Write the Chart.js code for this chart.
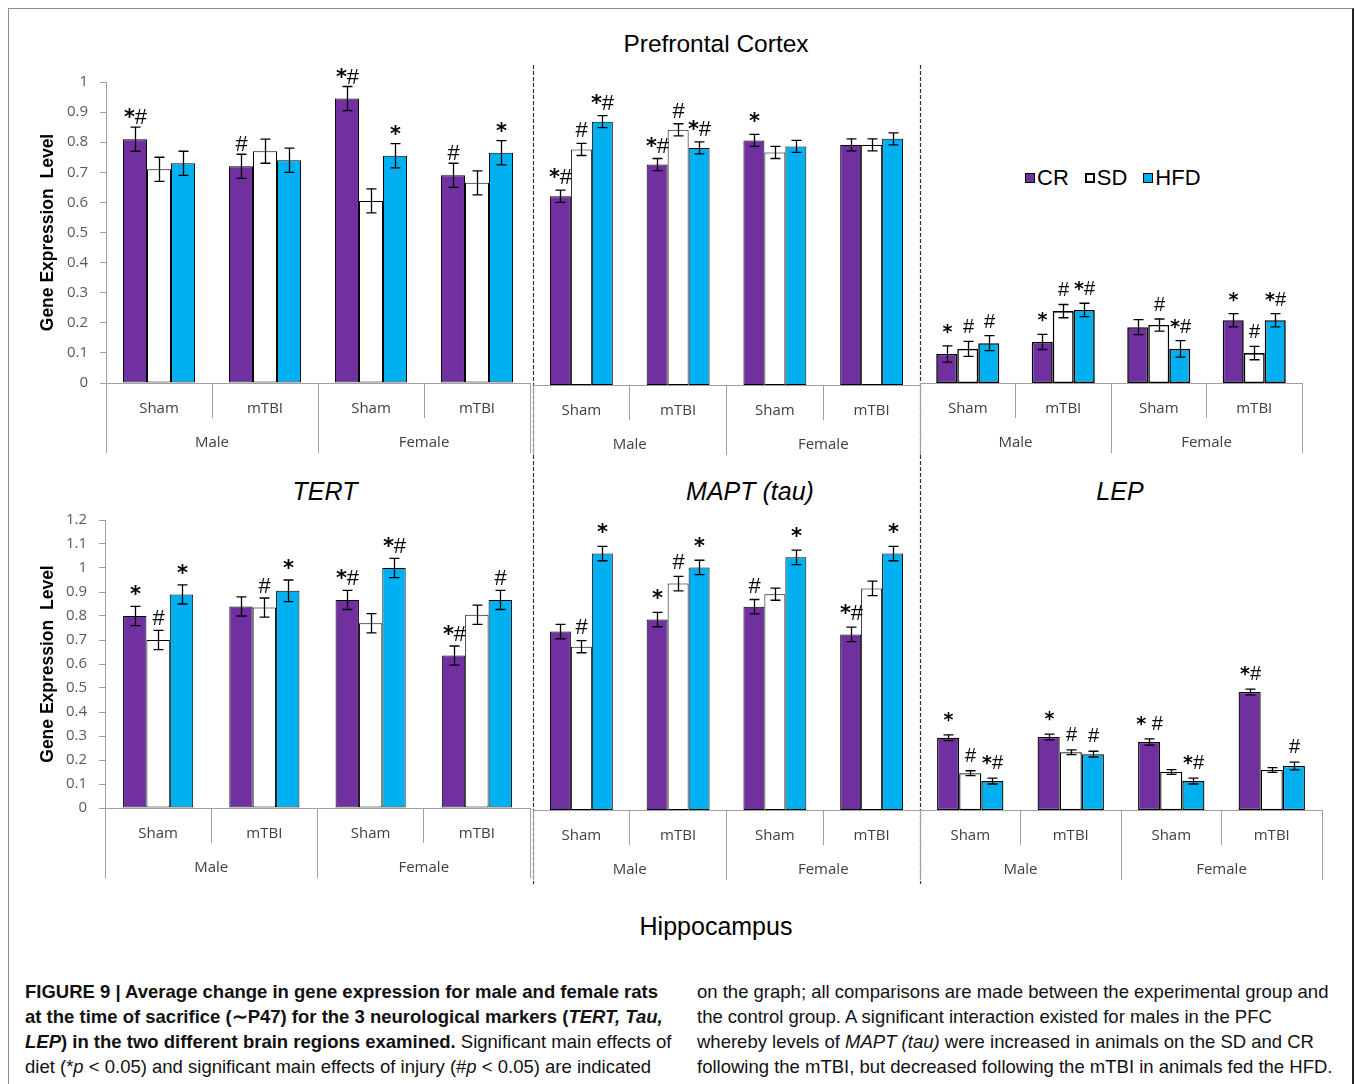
<!DOCTYPE html>
<html>
<head>
<meta charset="utf-8">
<title>Gene expression – PFC and hippocampus</title>
<script src="https://cdn.jsdelivr.net/npm/chart.js@4.4.0/dist/chart.umd.min.js"></script>
<style>
  html, body { margin: 0; padding: 0; background: #fff; }
  #fig { position: relative; width: 1355px; height: 1084px; overflow: hidden;
         font-family: "Liberation Sans", Arial, sans-serif; color: #000; }
  #frame { position: absolute; left: 8px; top: 8px; width: 1343px; height: 1200px;
           border-left: 1px solid #8c8c8c; border-top: 1px solid #8c8c8c; border-right: 2px solid #222; }
  canvas { position: absolute; }
  .ttl { position: absolute; transform: translate(-50%, -50%); white-space: nowrap; line-height: 1; }
  #legend { position: absolute; left: 1025px; top: 165px; height: 26px; display: flex; align-items: center;
            font-size: 22px; white-space: nowrap; }
  #legend .item { display: flex; align-items: center; margin-right: 16px; }
  #legend .sw { width: 10px; height: 10px; box-sizing: border-box; border: 1px solid #000; margin-right: 2px; }
  .cap { position: absolute; top: 979px; font-size: 18.5px; line-height: 25px; white-space: nowrap; color: #111; }
</style>
</head>
<body>
<div id="fig">
  <div id="frame"></div>
  <svg id="dividers" width="1355" height="1084" style="position:absolute;left:0;top:0;pointer-events:none">
    <line x1="533.5" y1="65" x2="533.5" y2="884" stroke="#333" stroke-width="1.2" stroke-dasharray="4 2"/>
    <line x1="920.5" y1="65" x2="920.5" y2="884" stroke="#333" stroke-width="1.2" stroke-dasharray="4 2"/>
  </svg>
  <div class="ttl" style="left:716px;top:44px;font-size:24.5px">Prefrontal Cortex</div>
  <div class="ttl" style="left:325px;top:491px;font-size:25px;font-style:italic">TERT</div>
  <div class="ttl" style="left:750px;top:491px;font-size:25px;font-style:italic">MAPT (tau)</div>
  <div class="ttl" style="left:1120px;top:491px;font-size:25px;font-style:italic">LEP</div>
  <div class="ttl" style="left:716px;top:926px;font-size:25px">Hippocampus</div>
  <div id="legend"></div>
  <div class="cap" style="left:25px">
    <b>FIGURE 9 | Average change in gene expression for male and female rats</b><br>
    <b>at the time of sacrifice (∼P47) for the 3 neurological markers (<i>TERT, Tau,</i></b><br>
    <b><i>LEP</i>) in the two different brain regions examined.</b> Significant main effects of<br>
    diet (*<i>p</i> &lt; 0.05) and significant main effects of injury (#<i>p</i> &lt; 0.05) are indicated
  </div>
  <div class="cap" style="left:697px">
    on the graph; all comparisons are made between the experimental group and<br>
    the control group. A significant interaction existed for males in the PFC<br>
    whereby levels of <i>MAPT (tau)</i> were increased in animals on the SD and CR<br>
    following the mTBI, but decreased following the mTBI in animals fed the HFD.
  </div>
</div>

<script>
// ---- shared categories -------------------------------------------------
const injuryLabels = ['Sham', 'mTBI', 'Sham', 'mTBI'];
const sexLabels = ['Male', 'Female'];
const dietNames = ['CR', 'SD', 'HFD'];
const dietFill = ['#7030A0', '#FFFFFF', '#00B0F0'];

// y-axis tick labels
const pfcTickLabels = ['0', '0.1', '0.2', '0.3', '0.4', '0.5', '0.6', '0.7', '0.8', '0.9', '1'];
const hcTickLabels = ['0', '0.1', '0.2', '0.3', '0.4', '0.5', '0.6', '0.7', '0.8', '0.9', '1', '1.1', '1.2'];
const yTitle = 'Gene Expression  Level';

// ---- Prefrontal cortex: TERT -------------------------------------------
const pfcTertCR  = [0.81, 0.72, 0.945, 0.69];
const pfcTertSD  = [0.71, 0.77, 0.605, 0.665];
const pfcTertHFD = [0.73, 0.74, 0.755, 0.765];
const pfcTertErrCR  = [0.04, 0.04, 0.04, 0.04];
const pfcTertErrSD  = [0.04, 0.04, 0.04, 0.04];
const pfcTertErrHFD = [0.04, 0.04, 0.04, 0.04];
const pfcTertSigCR  = ['*#', '#', '*#', '#'];
const pfcTertSigSD  = ['', '', '', ''];
const pfcTertSigHFD = ['', '', '*', '*'];

// ---- Prefrontal cortex: MAPT (tau) ---------------------------------------
const pfcMaptCR  = [0.625, 0.73, 0.81, 0.795];
const pfcMaptSD  = [0.78, 0.845, 0.77, 0.795];
const pfcMaptHFD = [0.872, 0.785, 0.79, 0.815];
const pfcMaptErrCR  = [0.02, 0.02, 0.02, 0.02];
const pfcMaptErrSD  = [0.02, 0.02, 0.02, 0.02];
const pfcMaptErrHFD = [0.02, 0.02, 0.02, 0.02];
const pfcMaptSigCR  = ['*#', '*#', '*', ''];
const pfcMaptSigSD  = ['#', '#', '', ''];
const pfcMaptSigHFD = ['*#', '*#', '', ''];

// ---- Prefrontal cortex: LEP ----------------------------------------------
const pfcLepCR  = [0.096, 0.136, 0.185, 0.208];
const pfcLepSD  = [0.113, 0.238, 0.192, 0.099];
const pfcLepHFD = [0.132, 0.242, 0.113, 0.208];
const pfcLepErrCR  = [0.027, 0.025, 0.025, 0.022];
const pfcLepErrSD  = [0.025, 0.022, 0.02, 0.022];
const pfcLepErrHFD = [0.025, 0.022, 0.027, 0.022];
const pfcLepSigCR  = ['*', '*', '', '*'];
const pfcLepSigSD  = ['#', '#', '#', '#'];
const pfcLepSigHFD = ['#', '*#', '*#', '*#'];

// ---- Hippocampus: TERT ---------------------------------------------------
const hcTertCR  = [0.80, 0.84, 0.867, 0.635];
const hcTertSD  = [0.70, 0.835, 0.77, 0.805];
const hcTertHFD = [0.89, 0.905, 1.0, 0.867];
const hcTertErrCR  = [0.04, 0.04, 0.04, 0.04];
const hcTertErrSD  = [0.04, 0.04, 0.04, 0.04];
const hcTertErrHFD = [0.04, 0.045, 0.04, 0.04];
const hcTertSigCR  = ['*', '', '*#', '*#'];
const hcTertSigSD  = ['#', '#', '', ''];
const hcTertSigHFD = ['*', '*', '*#', '#'];

// ---- Hippocampus: MAPT (tau) ---------------------------------------------
const hcMaptCR  = [0.741, 0.791, 0.844, 0.729];
const hcMaptSD  = [0.678, 0.94, 0.896, 0.92];
const hcMaptHFD = [1.065, 1.007, 1.049, 1.065];
const hcMaptErrCR  = [0.03, 0.03, 0.03, 0.03];
const hcMaptErrSD  = [0.025, 0.03, 0.025, 0.03];
const hcMaptErrHFD = [0.03, 0.03, 0.03, 0.03];
const hcMaptSigCR  = ['', '*', '#', '*#'];
const hcMaptSigSD  = ['#', '#', '', ''];
const hcMaptSigHFD = ['*', '*', '*', '*'];

// ---- Hippocampus: LEP ----------------------------------------------------
const hcLepCR  = [0.30, 0.303, 0.282, 0.49];
const hcLepSD  = [0.153, 0.24, 0.158, 0.166];
const hcLepHFD = [0.12, 0.232, 0.12, 0.183];
const hcLepErrCR  = [0.012, 0.012, 0.013, 0.012];
const hcLepErrSD  = [0.01, 0.01, 0.01, 0.01];
const hcLepErrHFD = [0.012, 0.012, 0.012, 0.016];
const hcLepSigCR  = ['*', '*', '* #', '*#'];
const hcLepSigSD  = ['#', '#', '', ''];
const hcLepSigHFD = ['*#', '#', '*#', '#'];

// ---- panel layout (page pixels of each plot area) -------------------------
const panels = [
  { area: { l: 106, r: 530, t: 81,  b: 383 }, axis: true,  ticks: pfcTickLabels, cat: 0.68, bw: 1,   gap: 3,  mark: 21,
    series: [[pfcTertCR, pfcTertErrCR, pfcTertSigCR], [pfcTertSD, pfcTertErrSD, pfcTertSigSD], [pfcTertHFD, pfcTertErrHFD, pfcTertSigHFD]] },
  { area: { l: 533, r: 920, t: 83,  b: 385 }, axis: false, ticks: pfcTickLabels, cat: 0.65, bw: 1,   gap: 6,  mark: 21,
    series: [[pfcMaptCR, pfcMaptErrCR, pfcMaptSigCR], [pfcMaptSD, pfcMaptErrSD, pfcMaptSigSD], [pfcMaptHFD, pfcMaptErrHFD, pfcMaptSigHFD]] },
  { area: { l: 920, r: 1302, t: 81, b: 383 }, axis: false, ticks: pfcTickLabels, cat: 0.66, bw: 1.6, gap: 8,  mark: 19,
    series: [[pfcLepCR, pfcLepErrCR, pfcLepSigCR], [pfcLepSD, pfcLepErrSD, pfcLepSigSD], [pfcLepHFD, pfcLepErrHFD, pfcLepSigHFD]] },
  { area: { l: 105, r: 530, t: 519, b: 808 }, axis: true,  ticks: hcTickLabels, cat: 0.66, bw: 1,   gap: 5,  mark: 21,
    series: [[hcTertCR, hcTertErrCR, hcTertSigCR], [hcTertSD, hcTertErrSD, hcTertSigSD], [hcTertHFD, hcTertErrHFD, hcTertSigHFD]] },
  { area: { l: 533, r: 920, t: 521, b: 810 }, axis: false, ticks: hcTickLabels, cat: 0.65, bw: 1,   gap: 7,  mark: 21,
    series: [[hcMaptCR, hcMaptErrCR, hcMaptSigCR], [hcMaptSD, hcMaptErrSD, hcMaptSigSD], [hcMaptHFD, hcMaptErrHFD, hcMaptSigHFD]] },
  { area: { l: 920, r: 1322, t: 521, b: 810 }, axis: false, ticks: hcTickLabels, cat: 0.66, bw: 1.3, gap: 9,  mark: 19,
    series: [[hcLepCR, hcLepErrCR, hcLepSigCR], [hcLepSD, hcLepErrSD, hcLepSigSD], [hcLepHFD, hcLepErrHFD, hcLepSigHFD]] }
];

const axisGrey = '#a0a0a0';
const catFont = { family: "'Open Sans', sans-serif", size: 15 };

// draws a significance string glyph by glyph: heavy asterisks, plain hashes
function drawMark(ctx, text, cx, baseline, size) {
  const parts = Array.from(text).map(ch => ({
    ch,
    font: ch === '*' ? 'bold ' + size + 'px "DejaVu Sans", sans-serif'
                     : (size + 1) + 'px "Liberation Sans", Arial, sans-serif'
  }));
  let total = 0;
  parts.forEach(p => { ctx.font = p.font; p.w = ctx.measureText(p.ch).width; total += p.w; });
  let x = cx - total / 2;
  ctx.textAlign = 'left';
  ctx.textBaseline = 'alphabetic';
  parts.forEach(p => { ctx.font = p.font; ctx.fillText(p.ch, x, baseline); x += p.w; });
}

// error bars (mean ± SEM) and significance marks above each bar
const errorBarPlugin = {
  id: 'errorBars',
  afterDatasetsDraw(chart, args, opts) {
    const { ctx } = chart;
    const y = chart.scales.y;
    chart.data.datasets.forEach((ds, di) => {
      const meta = chart.getDatasetMeta(di);
      meta.data.forEach((bar, i) => {
        const v = ds.data[i], e = ds.errors[i];
        const yTop = y.getPixelForValue(v + e);
        const yBot = y.getPixelForValue(v - e);
        const x = Math.round(bar.x) + 0.5;
        ctx.save();
        ctx.strokeStyle = '#000';
        ctx.lineWidth = 1.3;
        ctx.beginPath();
        ctx.moveTo(x, yTop); ctx.lineTo(x, yBot);
        ctx.moveTo(x - 5, yTop); ctx.lineTo(x + 5, yTop);
        ctx.moveTo(x - 5, yBot); ctx.lineTo(x + 5, yBot);
        ctx.stroke();
        const mark = ds.marks[i];
        if (mark) {
          ctx.fillStyle = '#000';
          drawMark(ctx, mark, x, yTop - opts.gap, opts.mark);
        }
        ctx.restore();
      });
    });
  }
};

const fig = document.getElementById('fig');

panels.forEach(p => {
  const padT = 20, padB = 4, padR = 4;
  const xH = 35, x2H = 35;
  const cLeft = p.axis ? 14 : p.area.l - 6;
  const padL = p.axis ? 0 : 6;
  const cTop = p.area.t - padT;
  const W = p.area.r + padR - cLeft;
  const H = p.area.b + xH + x2H + padB - cTop;
  const cv = document.createElement('canvas');
  cv.width = W; cv.height = H;
  cv.style.left = cLeft + 'px'; cv.style.top = cTop + 'px';
  cv.style.width = W + 'px'; cv.style.height = H + 'px';
  fig.appendChild(cv);

  const tickValues = p.ticks.map(Number);

  new Chart(cv, {
    type: 'bar',
    data: {
      labels: injuryLabels,
      datasets: p.series.map((s, k) => ({
        label: dietNames[k],
        data: s[0],
        errors: s[1],
        marks: s[2],
        backgroundColor: dietFill[k],
        borderColor: '#000',
        borderWidth: p.bw,
        borderSkipped: false,
        categoryPercentage: p.cat,
        barPercentage: 1,
        xAxisID: 'x',
        yAxisID: 'y'
      }))
    },
    options: {
      responsive: false,
      animation: false,
      events: [],
      layout: { padding: { left: padL, right: padR, top: padT, bottom: padB } },
      plugins: {
        legend: { display: false },
        tooltip: { enabled: false },
        errorBars: { gap: p.gap, mark: p.mark }
      },
      scales: {
        x: {
          type: 'category', position: 'bottom', offset: true, weight: 0,
          grid: { offset: true, drawOnChartArea: false, drawTicks: true, tickLength: 35, color: axisGrey, lineWidth: 1 },
          border: { display: true, color: axisGrey, width: 1 },
          ticks: { font: catFont, color: '#404040', padding: -18, maxRotation: 0, autoSkip: false },
          afterFit: s => { s.height = xH; }
        },
        x2: {
          type: 'category', labels: sexLabels, position: 'bottom', offset: true, weight: 1,
          grid: { offset: true, drawOnChartArea: false, drawTicks: true, tickLength: 35, color: axisGrey, lineWidth: 1 },
          border: { display: false },
          ticks: { font: catFont, color: '#404040', padding: -19, maxRotation: 0, autoSkip: false },
          afterFit: s => { s.height = x2H; }
        },
        y: {
          display: p.axis,
          min: 0,
          max: tickValues[tickValues.length - 1],
          afterBuildTicks: s => { s.ticks = tickValues.map(v => ({ value: v })); },
          ticks: { font: catFont, color: '#595959', padding: 12, callback: (v, i) => p.ticks[i] },
          grid: { drawOnChartArea: false, drawTicks: true, tickLength: 6, color: axisGrey },
          border: { display: true, color: axisGrey, width: 1 },
          title: {
            display: p.axis, text: yTitle, color: '#000',
            font: { family: "'Liberation Sans', Arial, sans-serif", size: 17.5, weight: 'bold' },
            padding: { top: 24, bottom: 0 }
          },
          afterFit: s => { s.width = p.axis ? p.area.l - cLeft : 0; }
        }
      }
    },
    plugins: [errorBarPlugin]
  });
});

// legend for the three diets
const legend = document.getElementById('legend');
dietNames.forEach((name, k) => {
  const item = document.createElement('span');
  item.className = 'item';
  const sw = document.createElement('span');
  sw.className = 'sw';
  sw.style.background = dietFill[k];
  if (name === 'SD') sw.style.borderWidth = '2px';
  const txt = document.createElement('span');
  txt.textContent = name;
  item.appendChild(sw);
  item.appendChild(txt);
  legend.appendChild(item);
});
</script>
</body>
</html>
